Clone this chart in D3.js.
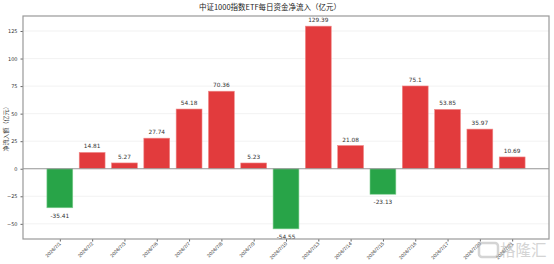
<!DOCTYPE html>
<html>
<head>
<meta charset="utf-8">
<script src="https://cdn.jsdelivr.net/npm/d3@7"></script>
<style>
  body { margin: 0; background: #fff; }
  svg { font-family: "DejaVu Sans", "Noto Sans CJK SC", sans-serif; }
</style>
</head>
<body>
<svg width="554" height="264"></svg>
<script>
// Data
const dates = ["2026/7/1", "2026/7/2", "2026/7/3", "2026/7/6", "2026/7/7", "2026/7/8", "2026/7/9",
  "2026/7/10", "2026/7/13", "2026/7/14", "2026/7/15", "2026/7/16", "2026/7/17", "2026/7/20", "2026/7/21"];
const flows = [-35.41, 14.81, 5.27, 27.74, 54.18, 70.36, 5.23, -54.55, 129.39, 21.08, -23.13, 75.1, 53.85, 35.97, 10.69];
const labels = ["-35.41", "14.81", "5.27", "27.74", "54.18", "70.36", "5.23", "-54.55", "129.39", "21.08", "-23.13", "75.1", "53.85", "35.97", "10.69"];
const yTicks = [-50, -25, 0, 25, 50, 75, 100, 125];

let svg = d3.select("svg");
let width = +svg.attr("width");
let height = +svg.attr("height");
let m = { left: 23, right: 5, top: 16, bottom: 25 };

// x: index positions, matplotlib-like margins
let x = d3.scaleLinear()
  .domain([-1.14, dates.length - 1 + 1.14])
  .range([m.left, width - m.right]);

let y = d3.scaleLinear()
  .domain([-63.75, 138.6])
  .range([height - m.bottom, m.top]);

let barW = x(0.8) - x(0);

// grid
svg.append("g")
  .selectAll("line")
  .data(yTicks)
  .enter().append("line")
    .attr("x1", m.left).attr("x2", width - m.right)
    .attr("y1", d => y(d)).attr("y2", d => y(d))
    .attr("stroke", "#efefef")
    .attr("stroke-width", 0.8);

// bars
svg.append("g")
  .selectAll("rect")
  .data(flows)
  .enter().append("rect")
    .attr("x", (d, i) => x(i) - barW / 2)
    .attr("width", barW)
    .attr("y", d => y(Math.max(0, d)))
    .attr("height", d => Math.abs(y(d) - y(0)))
    .attr("fill", d => d >= 0 ? "#e23b3d" : "#28a448")
    .attr("stroke", d => d >= 0 ? "#f08a8a" : "#7fcf90")
    .attr("stroke-width", 0.6);

// zero line
svg.append("line")
  .attr("x1", m.left).attr("x2", width - m.right)
  .attr("y1", y(0)).attr("y2", y(0))
  .attr("stroke", "#999")
  .attr("stroke-width", 1);

// value labels
svg.append("g")
  .selectAll("text")
  .data(flows)
  .enter().append("text")
    .attr("x", (d, i) => x(i))
    .attr("y", d => d >= 0 ? y(d) - 4 : y(d) + 10)
    .attr("text-anchor", "middle")
    .attr("font-size", 5.8)
    .attr("fill", "#333")
    .text((d, i) => labels[i]);

// y axis
let yAxis = svg.append("g")
  .attr("transform", `translate(${m.left},0)`)
  .call(d3.axisLeft(y).tickValues(yTicks).tickSize(2.5).tickPadding(3));
yAxis.select(".domain").remove();
yAxis.selectAll("line").attr("stroke", "#666");
yAxis.selectAll("text").attr("font-size", 5).attr("fill", "#333").attr("font-family", "DejaVu Sans");

// x axis
let xAxis = svg.append("g")
  .attr("transform", `translate(0,${height - m.bottom})`)
  .call(d3.axisBottom(x).tickValues(d3.range(dates.length)).tickSize(2.5).tickFormat(i => dates[i]));
xAxis.select(".domain").remove();
xAxis.selectAll("line").attr("stroke", "#666");
xAxis.selectAll("text")
  .attr("font-size", 5)
  .attr("fill", "#333")
  .attr("text-anchor", "end")
  .attr("dy", null)
  .attr("y", 0)
  .attr("transform", "translate(1,5) rotate(-45)");

// frame
svg.append("rect")
  .attr("x", m.left).attr("y", m.top)
  .attr("width", width - m.left - m.right)
  .attr("height", height - m.top - m.bottom)
  .attr("fill", "none")
  .attr("stroke", "#999")
  .attr("stroke-width", 1.2);

// titles
svg.append("text")
  .attr("x", 270).attr("y", 10)
  .attr("text-anchor", "middle")
  .attr("font-size", 7.5)
  .attr("fill", "#222")
  .attr("font-family", "Noto Sans CJK SC")
  .text("中证1000指数ETF每日资金净流入（亿元）");

svg.append("text")
  .attr("transform", `translate(8,${(m.top + height - m.bottom) / 2}) rotate(-90)`)
  .attr("text-anchor", "middle")
  .attr("font-size", 6)
  .attr("fill", "#333")
  .attr("font-family", "Noto Sans CJK SC")
  .text("净流入额（亿元）");

// watermark
let wm = svg.append("g").attr("opacity", 0.5);
wm.append("rect")
  .attr("x", 479).attr("y", 243).attr("width", 19).attr("height", 14)
  .attr("rx", 3).attr("fill", "none").attr("stroke", "#aaa").attr("stroke-width", 2.5);
wm.append("text")
  .attr("x", 500).attr("y", 256)
  .attr("font-size", 15.5)
  .attr("fill", "#aaa")
  .attr("font-family", "Noto Sans CJK SC")
  .text("格隆汇");
</script>
</body>
</html>
